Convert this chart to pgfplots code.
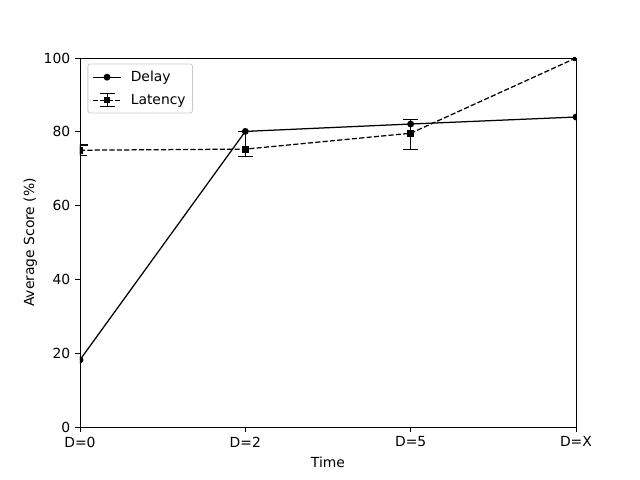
\documentclass[border=0pt]{standalone}
\usepackage{pgfplots}
\pgfplotsset{compat=1.18}
\usepackage{fontspec}
\setmainfont{DejaVu Sans}

\begin{document}
\begin{tikzpicture}
\begin{axis}[
    name=ax,
    scale only axis,
    width=357.1pt,
    height=265.7pt,
    xmin=0, xmax=3,
    ymin=0, ymax=100,
    xtick={0,1,2,3},
    xticklabels={D=0,D=2,D=5,D=X},
    ytick={0,20,40,60,80,100},
    tick align=outside,
    major tick length=3.5pt,
    tick style={black, line width=0.6pt},
    axis line style={line width=0.6pt},
    xtick pos=bottom, ytick pos=left,
    font=\fontsize{10pt}{12pt}\selectfont,
    /pgf/number format/assume math mode=true,
    xlabel={Time},
    ylabel={Average Score (\%)},
    xlabel style={yshift=0pt},
    ylabel style={yshift=-2pt},
    clip marker paths=true,
    legend cell align=left,
    legend style={draw=black!20, rounded corners=2pt, line width=0.6pt,
        at={(0.015,0.985)}, anchor=north west,
        inner xsep=3pt, inner ysep=3pt, row sep=3.5pt,
        font=\fontsize{10pt}{12pt}\selectfont},
]
% Delay
\addplot[black, line width=0.9pt, mark=*, mark size=2pt,
    legend image code/.code={
        \draw[black, solid, sharp corners, line width=0.7pt] (0pt,0pt) -- (20.7pt,0pt);
        \fill[black] (10.35pt,0pt) circle (2pt);
        \path (0pt,-5pt) (25pt,5pt);
    }]
    coordinates {(0,18.2) (1,80.1) (2,82.1) (3,84.0)};
\addlegendentry{Delay}

% Latency, with error bars
\addplot[black, line width=0.9pt, dash pattern=on 3.7pt off 1.6pt,
    mark=square*, mark size=2pt, mark options={solid},
    legend image code/.code={
        \begin{scope}[sharp corners]
        \draw[black, line width=0.7pt, dash pattern=on 3.7pt off 1.6pt] (0pt,0pt) -- (20.7pt,0pt);
        \draw[black, solid, line width=0.7pt] (10.35pt,-4.9pt) -- (10.35pt,4.9pt)
            (4.95pt,-4.9pt) -- (15.75pt,-4.9pt) (4.95pt,4.9pt) -- (15.75pt,4.9pt);
        \fill[black] (8.35pt,-2pt) rectangle (12.35pt,2pt);
        \path (0pt,-5pt) (25pt,5pt);
        \end{scope}
    },
    error bars/.cd, y dir=both, y explicit,
    error bar style={solid, line width=0.9pt},
    error mark options={rotate=90, mark size=5.4pt, solid, line width=0.9pt}]
    coordinates {
    (0,75.0) +- (0,1.4)
    (1,75.3) += (0,4.7) -= (0,1.9)
    (2,79.6) += (0,3.8) -= (0,4.5)
    (3,100.0)
    };
\addlegendentry{Latency}
\end{axis}
\path ([xshift=-57.6pt,yshift=-38.16pt]ax.south west) rectangle ++(460.8pt,345.6pt);
\end{tikzpicture}
\end{document}
